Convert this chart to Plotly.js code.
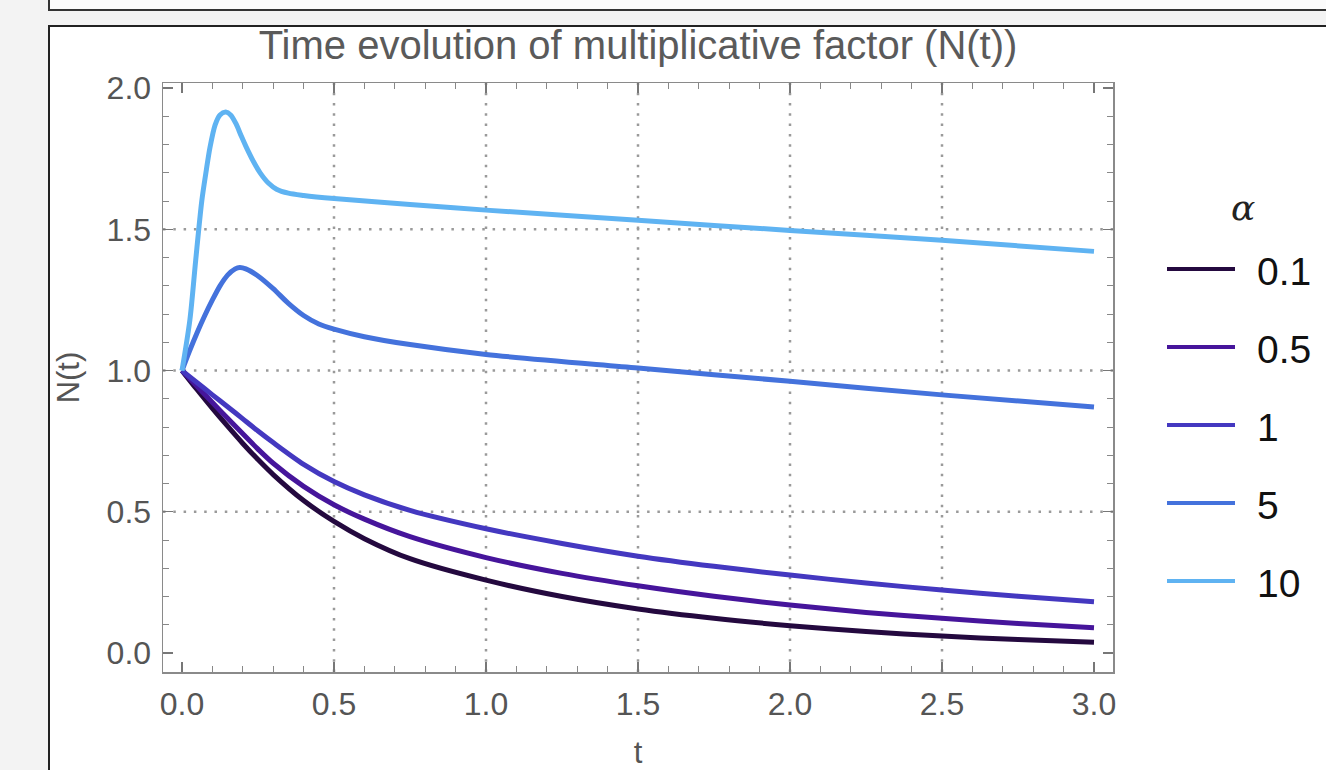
<!DOCTYPE html>
<html><head><meta charset="utf-8">
<script src="https://cdn.plot.ly/plotly-3.0.1.min.js"></script>
<style>
html,body{margin:0;padding:0;background:#f3f3f3;width:1326px;height:770px;overflow:hidden;}
#topbox{position:absolute;left:48px;top:-4px;width:1290px;height:11px;border:2px solid #333;background:#fbfbfb;}
#panel{position:absolute;left:48px;top:25px;width:1290px;height:760px;border-left:2px solid #222;border-top:2px solid #222;background:#fff;}
#chart{position:absolute;left:0;top:0;width:1326px;height:770px;}
</style></head><body>
<div id="topbox"></div><div id="panel"></div><div id="chart"></div>
<script>
// ---- data ----
const alphaNames = ['0.1', '0.5', '1', '5', '10'];
const alphaColors = ['#24093f', '#46159b', '#4438c0', '#4472dc', '#5fb3f2'];

const tSlow = [0, 0.05, 0.1, 0.15, 0.2, 0.25, 0.3, 0.4, 0.5, 0.6, 0.75, 1.0, 1.25, 1.5, 1.75, 2.0, 2.25, 2.5, 2.75, 3.0];
const nAlpha01 = [1.0, 0.932, 0.866, 0.803, 0.742, 0.685, 0.632, 0.540, 0.466, 0.405, 0.334, 0.258, 0.200, 0.156, 0.123, 0.097, 0.076, 0.060, 0.048, 0.038];
const nAlpha05 = [1.0, 0.944, 0.887, 0.831, 0.776, 0.722, 0.672, 0.590, 0.525, 0.474, 0.412, 0.338, 0.282, 0.238, 0.201, 0.170, 0.144, 0.123, 0.105, 0.090];
const nAlpha1  = [1.0, 0.957, 0.914, 0.872, 0.829, 0.786, 0.745, 0.668, 0.607, 0.560, 0.505, 0.440, 0.388, 0.343, 0.307, 0.276, 0.248, 0.223, 0.201, 0.182];

const tAlpha5 = [0, 0.025, 0.05, 0.075, 0.1, 0.125, 0.15, 0.175, 0.19, 0.21, 0.25, 0.3, 0.35, 0.4, 0.45, 0.5, 0.6, 0.75, 1.0, 1.5, 2.0, 2.5, 3.0];
const nAlpha5 = [1.0, 1.07, 1.135, 1.195, 1.25, 1.30, 1.338, 1.360, 1.365, 1.360, 1.335, 1.290, 1.238, 1.195, 1.165, 1.147, 1.120, 1.092, 1.057, 1.009, 0.962, 0.914, 0.871];

const tAlpha10 = [0, 0.026, 0.045, 0.065, 0.08, 0.092, 0.109, 0.125, 0.144, 0.16, 0.178, 0.195, 0.211, 0.235, 0.257, 0.285, 0.311, 0.35, 0.4, 0.5, 0.75, 1.0, 1.5, 2.0, 2.5, 3.0];
const nAlpha10 = [1.0, 1.18, 1.39, 1.60, 1.71, 1.79, 1.87, 1.905, 1.915, 1.905, 1.873, 1.83, 1.792, 1.74, 1.70, 1.663, 1.642, 1.628, 1.62, 1.609, 1.588, 1.568, 1.532, 1.496, 1.461, 1.422];

const gridX = [0.5, 1.0, 1.5, 2.0, 2.5];
const gridY = [0.5, 1.0, 1.5];

const titleText = 'Time evolution of multiplicative factor (N(t))';
const xTitle = 't';
const yTitle = 'N(t)';
const legendTitle = 'α';

// ---- build figure ----
const seriesT = [tSlow, tSlow, tSlow, tAlpha5, tAlpha10];
const seriesN = [nAlpha01, nAlpha05, nAlpha1, nAlpha5, nAlpha10];

const FONT = 'Liberation Sans, Arial, sans-serif';
const data = seriesN.map((ys, i) => ({
  type: 'scatter', mode: 'lines', name: alphaNames[i],
  x: seriesT[i], y: ys,
  line: {color: alphaColors[i], width: 5, shape: 'spline', smoothing: 0.8},
  showlegend: false, hoverinfo: 'skip'
}));

const W = 1326, H = 770;
const margin = {l: 163, r: 213, t: 83, b: 98};
const pw = W - margin.l - margin.r, ph = H - margin.t - margin.b;
const px2x = px => (px - margin.l) / pw;
const px2y = py => (H - margin.b - py) / ph;

const gridLine = {color: '#9a9a9a', width: 2.5, dash: '2.5px,7.8px'};
const shapes = [];
gridX.forEach(v => shapes.push({type: 'line', layer: 'below', xref: 'x', yref: 'paper', x0: v, x1: v, y0: 0, y1: 1, line: gridLine}));
gridY.forEach(v => shapes.push({type: 'line', layer: 'below', xref: 'paper', yref: 'y', x0: 0, x1: 1, y0: v, y1: v, line: gridLine}));

const annotations = [];
alphaNames.forEach((nm, i) => {
  const cy = 269 + 78 * i;
  shapes.push({type: 'line', xref: 'paper', yref: 'paper',
    x0: px2x(1167), x1: px2x(1235), y0: px2y(cy), y1: px2y(cy),
    line: {color: alphaColors[i], width: 4}});
  annotations.push({xref: 'paper', yref: 'paper', x: px2x(1255), y: px2y(cy + 2),
    xanchor: 'left', yanchor: 'middle', showarrow: false, text: nm,
    font: {family: FONT, size: 39, color: '#111'}});
});
annotations.push({xref: 'paper', yref: 'paper', x: px2x(1243), y: px2y(207),
  xanchor: 'center', yanchor: 'middle', showarrow: false, text: '<i>' + legendTitle + '</i>',
  font: {family: 'DejaVu Serif, Liberation Serif, serif', size: 36, color: '#222'}});

const tickFont = {family: FONT, size: 32, color: '#555'};
const xr = [-0.0625, 3.0625], yr = [-0.067, 2.018];
const common = {
  ticks: 'inside', ticklen: 10, tickwidth: 1.2, tickcolor: '#777',
  showline: true, linecolor: '#8a8a8a', linewidth: 1.5, mirror: 'allticks',
  showgrid: false, zeroline: false, tickformat: '.1f', tick0: 0, dtick: 0.5,
  tickfont: tickFont,
  minor: {tick0: 0, dtick: 0.1, ticks: 'inside', ticklen: 6, tickwidth: 1, tickcolor: '#888', showgrid: false}
};

const layout = {
  width: W, height: H, margin: margin,
  paper_bgcolor: 'rgba(0,0,0,0)', plot_bgcolor: '#ffffff',
  title: {text: titleText, font: {family: FONT, size: 40, color: '#5a5a5a'},
    x: 0.5, xref: 'paper', xanchor: 'center', y: 1 - 45 / H, yref: 'container', yanchor: 'middle'},
  xaxis: Object.assign({}, common, {range: xr, ticklabelstandoff: 3,
    title: {text: xTitle, font: {family: FONT, size: 31, color: '#555'}, standoff: 30}}),
  yaxis: Object.assign({}, common, {range: yr, ticklabelstandoff: 4,
    title: {text: yTitle, font: {family: FONT, size: 31, color: '#555'}, standoff: 18}}),
  shapes: shapes, annotations: annotations, showlegend: false
};

Plotly.newPlot('chart', data, layout, {staticPlot: true, displayModeBar: false});
</script>
</body></html>
